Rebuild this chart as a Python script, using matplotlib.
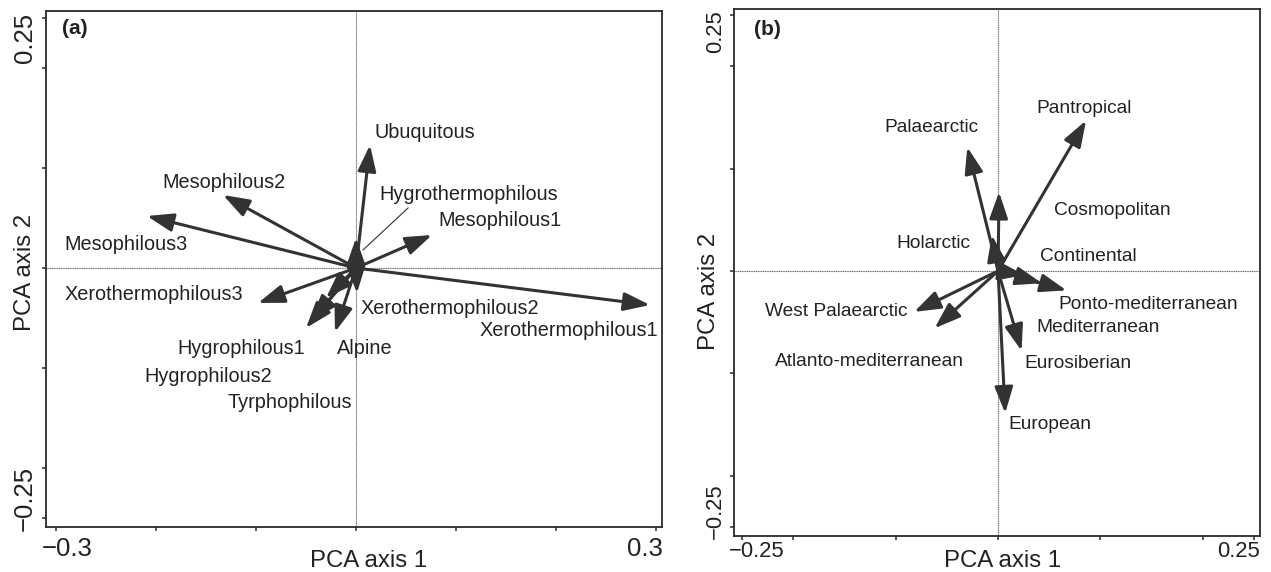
"""PCA biplots of trait loadings: (a) ecological groups, (b) chorotypes."""

import matplotlib
matplotlib.use("Agg")
import matplotlib.pyplot as plt
from matplotlib.transforms import ScaledTranslation

plt.rcParams["font.family"] = ["Liberation Sans", "DejaVu Sans"]

# ---------------------------------------------------------------------------
# Data (loadings on PCA axis 1 / axis 2)
# ---------------------------------------------------------------------------

ECO_NAMES = ["Ubuquitous", "Mesophilous2", "Mesophilous3", "Hygrothermophilous",
             "Mesophilous1", "Xerothermophilous1", "Xerothermophilous2",
             "Xerothermophilous3", "Hygrophilous1", "Hygrophilous2",
             "Tyrphophilous", "Alpine"]
ECO_PC1 = [0.014, -0.133, -0.209, 0.000, 0.076, 0.294, 0.001,
           -0.098, -0.030, -0.045, -0.050, -0.021]
ECO_PC2 = [0.123, 0.073, 0.052, 0.030, 0.033, -0.037, -0.025,
           -0.035, -0.030, -0.053, -0.060, -0.064]

CHORO_NAMES = ["Pantropical", "Palaearctic", "Cosmopolitan", "Holarctic",
               "Continental", "Mediterranean", "Ponto-mediterranean",
               "West Palaearctic", "Atlanto-mediterranean", "Eurosiberian",
               "European"]
CHORO_PC1 = [0.086, -0.030, 0.001, -0.006, 0.026, 0.043, 0.067,
             -0.082, -0.062, 0.023, 0.007]
CHORO_PC2 = [0.147, 0.121, 0.077, 0.035, -0.004, -0.012, -0.019,
             -0.040, -0.056, -0.078, -0.139]

# label anchor (left edge, vertical centre) in data units
ECO_LABEL_POS = {
    "Ubuquitous": (0.018, 0.135),
    "Mesophilous2": (-0.194, 0.086),
    "Mesophilous3": (-0.292, 0.023),
    "Hygrothermophilous": (0.023, 0.074),
    "Mesophilous1": (0.082, 0.048),
    "Xerothermophilous1": (0.124, -0.062),
    "Xerothermophilous2": (0.005, -0.040),
    "Xerothermophilous3": (-0.291, -0.027),
    "Hygrophilous1": (-0.179, -0.080),
    "Hygrophilous2": (-0.212, -0.108),
    "Tyrphophilous": (-0.129, -0.135),
    "Alpine": (-0.019, -0.080),
}
CHORO_LABEL_POS = {
    "Pantropical": (0.037, 0.159),
    "Palaearctic": (-0.111, 0.140),
    "Cosmopolitan": (0.055, 0.059),
    "Holarctic": (-0.0995, 0.027),
    "Continental": (0.041, 0.014),
    "Mediterranean": (0.037, -0.055),
    "Ponto-mediterranean": (0.0585, -0.033),
    "West Palaearctic": (-0.228, -0.040),
    "Atlanto-mediterranean": (-0.218, -0.088),
    "Eurosiberian": (0.026, -0.090),
    "European": (0.010, -0.150),
}

INK = "#333333"
TXT = "#222222"


def _style_axes(ax, xlim, ylim, xmaj, xmin, ymaj, ymin, tick_fs, xpad, ypad,
                xshift, yshift):
    ax.set_xlim(*xlim)
    ax.set_ylim(*ylim)
    for spine in ax.spines.values():
        spine.set_linewidth(1.3)
        spine.set_color("#2a2a2a")
    ax.axhline(0, color="#666666", lw=0.8, ls=(0, (1, 0.6)), zorder=1)
    ax.axvline(0, color="#666666", lw=0.8, ls=(0, (1, 0.6)), zorder=1)

    ax.set_xticks(xmaj)
    ax.set_xticklabels([("\u2212" if v < 0 else "") + f"{abs(v):g}" for v in xmaj],
                       fontsize=tick_fs, color=TXT)
    ax.set_xticks(xmin, minor=True)
    ax.set_yticks(ymaj)
    ax.set_yticklabels([("\u2212" if v < 0 else "") + f"{abs(v):g}" for v in ymaj],
                       fontsize=tick_fs, color=TXT, rotation=90, va="center")
    ax.set_yticks(ymin, minor=True)
    ax.tick_params(which="both", direction="out", length=3, width=1.1,
                   color="#2a2a2a")
    ax.tick_params(axis="x", which="major", pad=xpad)
    ax.tick_params(axis="y", which="major", pad=ypad)

    # pull the end labels inwards like the original
    fig = ax.figure
    xl = ax.get_xticklabels()
    xl[0].set_transform(xl[0].get_transform() + ScaledTranslation(xshift / 100, 0, fig.dpi_scale_trans))
    xl[-1].set_transform(xl[-1].get_transform() + ScaledTranslation(-xshift / 100, 0, fig.dpi_scale_trans))
    yl = ax.get_yticklabels()
    yl[0].set_transform(yl[0].get_transform() + ScaledTranslation(0, yshift / 100, fig.dpi_scale_trans))
    yl[-1].set_transform(yl[-1].get_transform() + ScaledTranslation(0, -yshift / 100, fig.dpi_scale_trans))


def _draw_arrows(ax, xs, ys):
    for x, y in zip(xs, ys):
        ax.annotate("", xy=(x, y), xytext=(0, 0),
                    arrowprops=dict(arrowstyle="-|>,head_length=0.8,head_width=0.28",
                                    color=INK, lw=2.2, shrinkA=0, shrinkB=0,
                                    mutation_scale=20),
                    zorder=3)


def _draw_labels(ax, names, pos, fs):
    for name in names:
        lx, ly = pos[name]
        ax.text(lx, ly, name, ha="left", va="center", fontsize=fs, color=TXT,
                zorder=4)


fig = plt.figure(figsize=(12.71, 5.72), dpi=100)

# --- panel (a) --------------------------------------------------------------
ax_a = fig.add_axes([46 / 1271, 45 / 572, 616 / 1271, 516 / 572])
_style_axes(ax_a, (-0.310, 0.306), (-0.259, 0.257),
            [-0.3, 0.3], [-0.2, -0.1, 0, 0.1, 0.2],
            [-0.25, 0.25], [-0.2, -0.1, 0, 0.1, 0.2],
            tick_fs=18.5, xpad=4, ypad=3.5, xshift=11, yshift=20)
_draw_arrows(ax_a, ECO_PC1, ECO_PC2)
_draw_labels(ax_a, ECO_NAMES, ECO_LABEL_POS, 14.3)
ax_a.plot([0.007, 0.052], [0.018, 0.060], color=INK, lw=0.8, zorder=3)
ax_a.text(-0.294, 0.239, "(a)", fontsize=15, fontweight="bold", color=TXT,
          ha="left", va="center")
ax_a.set_xlabel("PCA axis 1", fontsize=17.3, color=TXT)
ax_a.xaxis.set_label_coords(0.524, -0.045)
ax_a.xaxis.label.set_va("top")
ax_a.set_ylabel("PCA axis 2", fontsize=17.3, color=TXT)
ax_a.yaxis.set_label_coords(-0.016, 0.494)

# --- panel (b) --------------------------------------------------------------
ax_b = fig.add_axes([734 / 1271, 36 / 572, 526 / 1271, 527 / 572])
_style_axes(ax_b, (-0.258, 0.256), (-0.259, 0.256),
            [-0.25, 0.25], [-0.2, -0.1, 0, 0.1, 0.2],
            [-0.25, 0.25], [-0.2, -0.1, 0, 0.1, 0.2],
            tick_fs=15.8, xpad=0.5, ypad=3, xshift=15, yshift=16)
_draw_arrows(ax_b, CHORO_PC1, CHORO_PC2)
_draw_labels(ax_b, CHORO_NAMES, CHORO_LABEL_POS, 13.8)
ax_b.text(-0.238, 0.236, "(b)", fontsize=15, fontweight="bold", color=TXT,
          ha="left", va="center")
ax_b.set_xlabel("PCA axis 1", fontsize=17.3, color=TXT)
ax_b.xaxis.set_label_coords(0.51, -0.026)
ax_b.xaxis.label.set_va("top")
ax_b.set_ylabel("PCA axis 2", fontsize=17.3, color=TXT)
ax_b.yaxis.set_label_coords(-0.026, 0.465)

fig.savefig("out.png", dpi=100)
